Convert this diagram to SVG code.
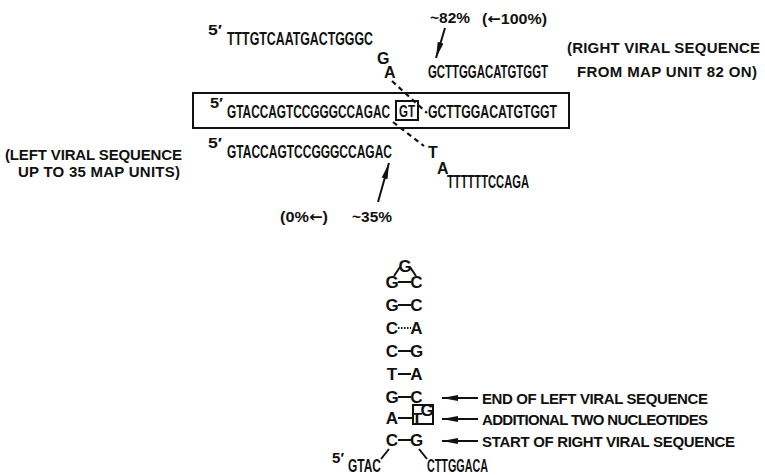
<svg xmlns="http://www.w3.org/2000/svg" width="765" height="475" viewBox="0 0 765 475">
<defs>
<style>
text{font-family:"Liberation Sans",Arial,sans-serif;font-weight:bold;fill:#111}
.seq{font-size:18px}
.one{font-size:16px}
.lab{font-size:15px}
.st{font-size:17px;text-anchor:middle}
.ar{font-family:"DejaVu Sans",sans-serif}
.ln{stroke:#111;stroke-width:2;fill:none}
.dash{stroke:#111;stroke-width:2.2;stroke-dasharray:5 4;fill:none}
</style>
<marker id="ah" viewBox="0 0 16 8" refX="16" refY="4" markerWidth="16" markerHeight="8" markerUnits="userSpaceOnUse" orient="auto">
<path d="M0,1 L16,4 L0,7 Z" fill="#111"/>
</marker>
</defs>
<rect width="765" height="475" fill="#fff"/>

<g id="top-strand">
<text class="lab" x="208" y="35" textLength="14" lengthAdjust="spacingAndGlyphs">5′</text>
<text class="seq" x="227" y="45" textLength="146" lengthAdjust="spacingAndGlyphs">TTTGTCAATGACTGGGC</text>
<text class="one" x="377" y="64">G</text>
<text class="one" x="384" y="78">A</text>
</g>

<g id="right-label">
<text class="lab" x="430" y="23" textLength="40" lengthAdjust="spacingAndGlyphs">~82%</text>
<text class="lab" x="482" y="24" textLength="65" lengthAdjust="spacingAndGlyphs">(<tspan class="ar">←</tspan>100%)</text>
<text class="seq" x="428" y="78" textLength="120" lengthAdjust="spacingAndGlyphs">GCTTGGACATGTGGT</text>
<text class="lab" x="567" y="53" textLength="193" lengthAdjust="spacing">(RIGHT VIRAL SEQUENCE</text>
<text class="lab" x="577" y="77" textLength="180" lengthAdjust="spacing">FROM MAP UNIT 82 ON)</text>
</g>

<g id="recombinant">
<rect x="193" y="93" width="376" height="35" class="ln"/>
<text class="lab" x="210" y="108" textLength="13" lengthAdjust="spacingAndGlyphs">5′</text>
<text class="seq" x="227" y="118" textLength="163" lengthAdjust="spacingAndGlyphs">GTACCAGTCCGGGCCAGAC</text>
<rect x="396" y="101" width="22" height="19" class="ln"/>
<text class="one" x="399" y="117" textLength="16" lengthAdjust="spacingAndGlyphs">GT</text>
<text class="seq" x="428" y="118" textLength="129" lengthAdjust="spacingAndGlyphs">GCTTGGACATGTGGT</text>
</g>

<g id="left-strand">
<text class="lab" x="5" y="160" textLength="177" lengthAdjust="spacing">(LEFT VIRAL SEQUENCE</text>
<text class="lab" x="18" y="177" textLength="162" lengthAdjust="spacing">UP TO 35 MAP UNITS)</text>
<text class="lab" x="208" y="148" textLength="14" lengthAdjust="spacingAndGlyphs">5′</text>
<text class="seq" x="227" y="158" textLength="165" lengthAdjust="spacingAndGlyphs">GTACCAGTCCGGGCCAGAC</text>
<text class="one" x="428" y="158">T</text>
<text class="one" x="437" y="174">A</text>
<text class="seq" x="447" y="188" textLength="82" lengthAdjust="spacingAndGlyphs">TTTTTTCCAGA</text>
<text class="lab" x="280" y="222" textLength="48" lengthAdjust="spacingAndGlyphs">(0%<tspan class="ar">←</tspan>)</text>
<text class="lab" x="352" y="222" textLength="40" lengthAdjust="spacingAndGlyphs">~35%</text>
</g>

<g id="stem">
<text class="st" x="405" y="272">G</text>
<text class="st" x="392" y="288">G</text><text class="st" x="416.5" y="288">C</text>
<text class="st" x="392" y="311">G</text><text class="st" x="416.5" y="311">C</text>
<text class="st" x="392" y="334">C</text><text class="st" x="416.5" y="334">A</text>
<text class="st" x="392" y="357">C</text><text class="st" x="416.5" y="357">G</text>
<text class="st" x="392" y="380">T</text><text class="st" x="416.5" y="380">A</text>
<text class="st" x="392" y="403">G</text><text class="st" x="416.5" y="403">C</text>
<text class="st" x="392" y="424">A</text>
<rect x="413" y="405" width="20" height="19" class="ln"/>
<text class="st" x="417" y="425">T</text>
<text class="st" x="427" y="416">G</text>
<text class="st" x="392" y="446">C</text><text class="st" x="416.5" y="446">G</text>
<text class="lab" x="332" y="463" textLength="12" lengthAdjust="spacingAndGlyphs">5′</text>
<text class="seq" x="348" y="472" textLength="33" lengthAdjust="spacingAndGlyphs">GTAC</text>
<text class="seq" x="427" y="472" textLength="61" lengthAdjust="spacingAndGlyphs">CTTGGACA</text>
</g>

<g id="stem-labels">
<text class="lab" x="482" y="404" textLength="226" lengthAdjust="spacing">END OF LEFT VIRAL SEQUENCE</text>
<text class="lab" x="482" y="425" textLength="226" lengthAdjust="spacing">ADDITIONAL TWO NUCLEOTIDES</text>
<text class="lab" x="482" y="447" textLength="253" lengthAdjust="spacing">START OF RIGHT VIRAL SEQUENCE</text>
</g>

<g id="connectors">
<line class="dash" x1="392" y1="81" x2="427" y2="113"/>
<line class="dash" x1="393" y1="122" x2="424" y2="146"/>
<line class="ln" x1="445" y1="28" x2="436" y2="58" marker-end="url(#ah)"/>
<line class="ln" x1="378" y1="202" x2="389" y2="163" marker-end="url(#ah)"/>
<path class="ln" d="M394,276 L400,267 M410,267 L416,276" stroke-width="1.6"/>
<line class="ln" x1="398" y1="282" x2="411" y2="282"/>
<line class="ln" x1="398" y1="305" x2="411" y2="305"/>
<line class="ln" x1="398" y1="328" x2="411" y2="328" stroke-width="1.4" stroke-dasharray="1.5 1.5"/>
<line class="ln" x1="398" y1="351" x2="411" y2="351"/>
<line class="ln" x1="398" y1="374" x2="411" y2="374"/>
<line class="ln" x1="398" y1="397" x2="411" y2="397"/>
<line class="ln" x1="398" y1="418" x2="413" y2="418"/>
<line class="ln" x1="398" y1="440" x2="411" y2="440"/>
<line class="ln" x1="389" y1="449" x2="381" y2="459"/>
<line class="ln" x1="419" y1="449" x2="427" y2="459"/>
<line class="ln" x1="478" y1="398" x2="442" y2="398" marker-end="url(#ah)"/>
<line class="ln" x1="478" y1="419" x2="442" y2="419" marker-end="url(#ah)"/>
<line class="ln" x1="478" y1="441" x2="442" y2="441" marker-end="url(#ah)"/>
</g>
</svg>
